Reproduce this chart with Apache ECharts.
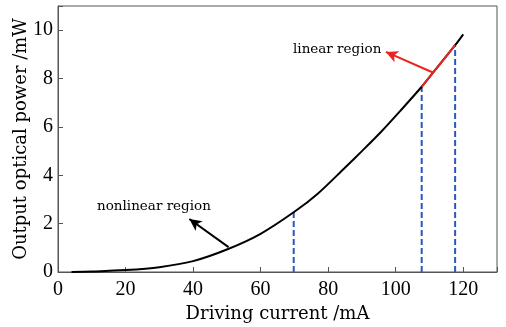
<!DOCTYPE html>
<html>
<head>
    <meta charset="utf-8">
    <title>Driving current vs output power</title>
    <script src="https://cdn.jsdelivr.net/npm/echarts@6/dist/echarts.min.js"></script>
    <style>
        html, body { margin: 0; padding: 0; background: #fff; }
        #chart { width: 506px; height: 327px; }
    </style>
</head>
<body>
<div id="chart"></div>
<script>
    // values
    var currentMA = [4, 10, 20, 30, 40, 50, 60, 70, 77, 84.8, 90, 95.7, 101.6, 107.7, 110, 117.6, 120];
    var powerMW = [0, 0.02, 0.08, 0.2, 0.45, 0.93, 1.58, 2.49, 3.25, 4.29, 5.0, 5.8, 6.7, 7.66, 8.06, 9.38, 9.83];
    var linearFrom = 107.7, linearTo = 117.6;
    var dashX = [69.8, 107.7, 117.6];
    var dashTop = [2.48, 7.66, 9.38];
    var xTicks = [0, 20, 40, 60, 80, 100, 120];
    var yTicks = [0, 2, 4, 6, 8, 10];

    var font = 'DejaVu Serif';
    var tickFont = 'Liberation Serif';
    var curve = currentMA.map(function (x, i) { return [x, powerMW[i]]; });
    var linear = curve.filter(function (p) { return p[0] >= linearFrom && p[0] <= linearTo; });

    var series = [
        {
            name: 'curve',
            type: 'line',
            data: curve,
            smooth: 0.3,
            showSymbol: false,
            lineStyle: {color: '#000', width: 2},
            z: 3,
            markLine: {
                silent: true,
                symbolSize: [9, 12],
                lineStyle: {color: '#000', width: 2, type: 'solid'},
                label: {show: false},
                data: [
                    [{coord: [50.5, 1.03], symbol: 'none'}, {coord: [38.9, 2.19], symbol: 'arrow'}]
                ]
            }
        },
        {
            name: 'linear',
            type: 'line',
            data: linear,
            smooth: 0.3,
            showSymbol: false,
            lineStyle: {color: '#e8261f', width: 2},
            z: 4,
            markLine: {
                silent: true,
                symbolSize: [9, 12],
                lineStyle: {color: '#e8261f', width: 2, type: 'solid'},
                label: {show: false},
                data: [
                    [{coord: [111.0, 8.25], symbol: 'none'}, {coord: [97.1, 9.1], symbol: 'arrow'}]
                ]
            }
        }
    ];
    dashX.forEach(function (x, i) {
        series.push({
            type: 'line',
            data: [[x, 0], [x, dashTop[i]]],
            showSymbol: false,
            lineStyle: {color: '#2a56c6', width: 2, type: [6, 3]},
            z: 2
        });
    });

    var chart = echarts.init(document.getElementById('chart'));
    chart.setOption({
        animation: false,
        grid: {
            left: 58, right: 9, top: 6, bottom: 55,
            outerBoundsMode: 'none', containLabel: false,
            show: true, borderColor: '#555', borderWidth: 1
        },
        xAxis: {
            type: 'value',
            min: 0, max: 130, interval: 20,
            name: 'Driving current /mA',
            nameLocation: 'middle',
            nameGap: 31,
            nameTextStyle: {fontFamily: font, fontSize: 18, color: '#000'},
            axisLine: {show: true, onZero: false, lineStyle: {color: '#555'}},
            axisTick: {inside: true, length: 5, lineStyle: {color: '#555'}},
            axisLabel: {
                fontFamily: tickFont, fontSize: 20, color: '#000', margin: 8,
                formatter: function (v) { return xTicks.indexOf(v) >= 0 ? v : ''; }
            },
            splitLine: {show: false}
        },
        yAxis: {
            type: 'value',
            min: 0, max: 11, interval: 2,
            name: 'Output optical power /mW',
            nameLocation: 'middle',
            nameGap: 28,
            nameMoveOverlap: false,
            nameTextStyle: {fontFamily: font, fontSize: 18, color: '#000'},
            axisLine: {show: true, lineStyle: {color: '#555'}},
            axisTick: {inside: true, length: 5, lineStyle: {color: '#555'}},
            axisLabel: {
                fontFamily: tickFont, fontSize: 20, color: '#000', margin: 5,
                formatter: function (v) { return yTicks.indexOf(v) >= 0 ? v : ''; }
            },
            splitLine: {show: false}
        },
        graphic: [
            {type: 'text', left: 293, top: 42, style: {text: 'linear region', font: '13.5px "DejaVu Serif"', fill: '#000'}},
            {type: 'text', left: 97, top: 199, style: {text: 'nonlinear region', font: '13.5px "DejaVu Serif"', fill: '#000'}}
        ],
        series: series
    });
</script>
</body>
</html>
